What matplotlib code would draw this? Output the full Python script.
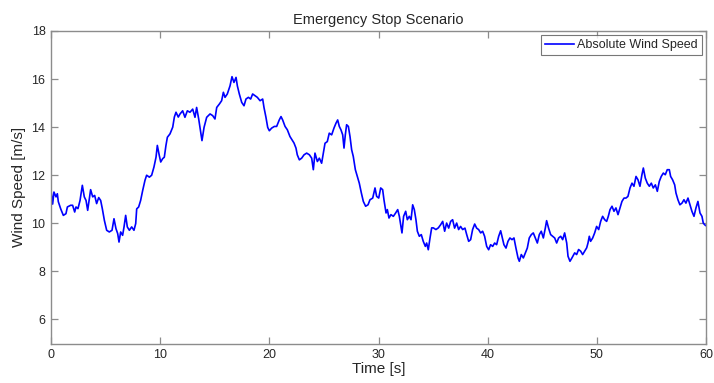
import matplotlib
matplotlib.use("Agg")
import matplotlib.pyplot as plt

plt.rcParams['font.family'] = ['Liberation Sans', 'DejaVu Sans']

title = "Emergency Stop Scenario"
x_label = "Time [s]"
y_label = "Wind Speed [m/s]"
series_label = "Absolute Wind Speed"

x_ticks = [0, 10, 20, 30, 40, 50, 60]
y_ticks = [6, 8, 10, 12, 14, 16, 18]

time_s = [
    0.00, 0.15, 0.27, 0.46, 0.58, 0.67, 0.89, 1.13, 1.37, 1.50, 1.80, 1.98,
    2.17, 2.29, 2.47, 2.66, 2.87, 3.05, 3.21, 3.36, 3.51, 3.63, 3.82, 4.00,
    4.18, 4.37, 4.55, 4.70, 4.89, 5.10, 5.34, 5.59, 5.77, 5.95, 6.11, 6.23,
    6.38, 6.56, 6.69, 6.84, 6.99, 7.18, 7.39, 7.60, 7.76, 7.85, 8.03, 8.21,
    8.40, 8.61, 8.76, 9.01, 9.22, 9.43, 9.62, 9.74, 9.92, 10.05, 10.23, 10.38,
    10.53, 10.66, 10.90, 11.15, 11.30, 11.45, 11.66, 11.82, 12.06, 12.27, 12.49,
    12.73, 12.98, 13.19, 13.34, 13.53, 13.71, 13.83, 14.02, 14.26, 14.57, 14.81,
    15.02, 15.18, 15.42, 15.63, 15.79, 15.94, 16.15, 16.40, 16.58, 16.76, 16.95,
    17.07, 17.25, 17.47, 17.68, 17.86, 18.08, 18.29, 18.47, 18.69, 18.90, 19.15,
    19.39, 19.51, 19.69, 19.85, 20.00, 20.21, 20.46, 20.67, 20.91, 21.07, 21.22,
    21.44, 21.65, 21.89, 22.08, 22.26, 22.44, 22.56, 22.75, 22.96, 23.18, 23.42,
    23.67, 23.88, 24.03, 24.18, 24.40, 24.58, 24.79, 24.95, 25.10, 25.31, 25.49,
    25.71, 25.92, 26.11, 26.26, 26.41, 26.56, 26.72, 26.84, 26.96, 27.08, 27.24,
    27.39, 27.54, 27.69, 27.88, 28.06, 28.24, 28.43, 28.61, 28.82, 29.04, 29.22,
    29.47, 29.68, 29.83, 30.02, 30.20, 30.38, 30.50, 30.69, 30.81, 30.96, 31.14,
    31.36, 31.57, 31.76, 31.91, 32.03, 32.15, 32.30, 32.49, 32.64, 32.82, 32.98,
    33.13, 33.28, 33.43, 33.56, 33.74, 33.92, 34.10, 34.29, 34.41, 34.56, 34.72,
    34.87, 35.02, 35.26, 35.48, 35.69, 35.88, 36.06, 36.24, 36.43, 36.61, 36.79,
    36.97, 37.16, 37.34, 37.52, 37.71, 37.92, 38.08, 38.26, 38.44, 38.62, 38.81,
    38.99, 39.17, 39.36, 39.54, 39.72, 39.91, 40.09, 40.27, 40.46, 40.64, 40.82,
    41.01, 41.19, 41.31, 41.49, 41.68, 41.86, 42.04, 42.23, 42.41, 42.59, 42.78,
    42.90, 43.08, 43.27, 43.45, 43.63, 43.81, 44.00, 44.18, 44.36, 44.55, 44.73,
    44.91, 45.10, 45.28, 45.40, 45.58, 45.77, 45.95, 46.14, 46.32, 46.50, 46.69,
    46.87, 47.05, 47.24, 47.36, 47.54, 47.72, 47.97, 48.15, 48.33, 48.52, 48.70,
    48.88, 49.07, 49.19, 49.31, 49.43, 49.62, 49.80, 49.98, 50.17, 50.35, 50.53,
    50.72, 50.90, 51.05, 51.21, 51.39, 51.57, 51.75, 51.94, 52.12, 52.30, 52.49,
    52.67, 52.85, 53.04, 53.22, 53.40, 53.59, 53.77, 53.95, 54.13, 54.26, 54.44,
    54.62, 54.81, 54.99, 55.17, 55.36, 55.54, 55.72, 55.90, 56.09, 56.27, 56.45,
    56.64, 56.76, 56.94, 57.13, 57.25, 57.43, 57.61, 57.80, 57.98, 58.16, 58.35,
    58.53, 58.71, 58.90, 59.08, 59.26, 59.45, 59.63, 59.75, 59.88, 60.00,
]

wind_speed = [
    11.37, 10.80, 11.30, 11.10, 11.23, 10.90, 10.60, 10.33, 10.40, 10.68, 10.75, 10.75,
    10.47, 10.68, 10.61, 10.95, 11.58, 11.10, 10.95, 10.54, 11.02, 11.40, 11.10, 11.16,
    10.82, 11.07, 10.95, 10.61, 10.12, 9.71, 9.64, 9.71, 10.19, 9.78, 9.57, 9.22,
    9.64, 9.50, 9.85, 10.33, 9.85, 9.71, 9.85, 9.71, 9.99, 10.60, 10.68, 10.95,
    11.37, 11.79, 12.00, 11.92, 12.00, 12.34, 12.75, 13.24, 12.82, 12.55, 12.69, 12.75,
    13.24, 13.58, 13.72, 14.00, 14.42, 14.62, 14.42, 14.55, 14.68, 14.41, 14.68,
    14.62, 14.75, 14.41, 14.82, 14.34, 13.79, 13.44, 13.99, 14.41, 14.55, 14.48,
    14.34, 14.82, 14.96, 15.10, 15.45, 15.24, 15.38, 15.72, 16.10, 15.86, 16.07,
    15.72, 15.38, 15.03, 14.89, 15.17, 15.24, 15.17, 15.38, 15.31, 15.24, 15.10,
    15.17, 14.82, 14.41, 13.99, 13.85, 13.96, 14.03, 14.03, 14.30, 14.44, 14.30,
    14.03, 13.89, 13.61, 13.47, 13.34, 13.13, 12.85, 12.64, 12.71, 12.85, 12.92,
    12.85, 12.71, 12.23, 12.92, 12.57, 12.71, 12.50, 12.92, 13.33, 13.40, 13.75,
    13.68, 13.96, 14.17, 14.30, 14.03, 13.89, 13.68, 13.13, 13.68, 14.10, 14.03,
    13.61, 13.06, 12.78, 12.23, 11.95, 11.67, 11.26, 10.91, 10.71, 10.77, 10.98,
    11.05, 11.47, 11.12, 11.05, 11.47, 11.40, 10.98, 10.43, 10.57, 10.22, 10.36,
    10.29, 10.43, 10.57, 10.29, 9.94, 9.60, 10.29, 10.50, 10.15, 10.29, 10.15,
    10.77, 10.57, 10.15, 9.67, 9.46, 9.53, 9.25, 9.04, 9.18, 8.90, 9.39,
    9.81, 9.81, 9.74, 9.81, 9.94, 10.08, 9.67, 10.01, 9.80, 10.08, 10.15,
    9.80, 10.01, 9.74, 9.87, 9.74, 9.80, 9.53, 9.25, 9.32, 9.74, 9.97,
    9.80, 9.74, 9.60, 9.67, 9.46, 9.04, 8.90, 9.11, 9.04, 9.18, 9.11,
    9.46, 9.69, 9.46, 9.11, 8.97, 9.25, 9.39, 9.32, 9.39, 8.97, 8.56,
    8.42, 8.70, 8.56, 8.77, 8.97, 9.39, 9.53, 9.60, 9.39, 9.18, 9.53,
    9.67, 9.39, 9.80, 10.11, 9.80, 9.53, 9.46, 9.39, 9.18, 9.39, 9.46,
    9.32, 9.60, 9.18, 8.63, 8.42, 8.56, 8.77, 8.70, 8.91, 8.84, 8.70,
    8.84, 8.98, 9.18, 9.46, 9.25, 9.39, 9.60, 9.87, 9.74, 10.08, 10.29,
    10.15, 10.08, 10.29, 10.57, 10.71, 10.50, 10.64, 10.36, 10.64, 10.91, 11.05,
    11.05, 11.12, 11.47, 11.67, 11.54, 11.95, 11.81, 11.54, 12.02, 12.30, 11.88,
    11.67, 11.54, 11.67, 11.47, 11.60, 11.33, 11.74, 11.95, 12.09, 12.02, 12.23,
    12.23, 11.95, 11.81, 11.60, 11.26, 10.98, 10.77, 10.84, 10.98, 10.84, 11.05,
    10.77, 10.50, 10.29, 10.64, 10.91, 10.43, 10.29, 10.01, 9.94, 9.90,
]

axis_grey = "#8c8c8c"
text_grey = "#262626"

fig = plt.figure(figsize=(7.14, 3.83), dpi=100)
ax = fig.add_axes([51 / 714, 1 - 343.5 / 383, (706 - 51) / 714, (343.5 - 31) / 383])

ax.plot(time_s, wind_speed, color="#0000ff", linewidth=1.2, label=series_label)

ax.set_xlim(0, 60)
ax.set_ylim(5, 18)
ax.set_xticks(x_ticks)
ax.set_yticks(y_ticks)

for side in ("left", "right", "top", "bottom"):
    ax.spines[side].set_color(axis_grey)
    ax.spines[side].set_linewidth(1.0)

ax.tick_params(axis="both", direction="in", length=5, width=0.9,
               color=axis_grey, labelcolor=text_grey, labelsize=9,
               top=True, right=True, pad=4)

ax.set_title(title, fontsize=10.5, color=text_grey, pad=5)
ax.set_xlabel(x_label, fontsize=11, color=text_grey, labelpad=1)
ax.set_ylabel(y_label, fontsize=11, color=text_grey, labelpad=4)

leg = ax.legend(loc="upper right", fontsize=9, frameon=True, fancybox=False,
                handlelength=2.3, handletextpad=0.3, borderpad=0.3,
                borderaxespad=0.35, labelcolor=text_grey)
leg.get_frame().set_edgecolor("#555555")
leg.get_frame().set_linewidth(0.8)

fig.savefig("out.png", dpi=100)
